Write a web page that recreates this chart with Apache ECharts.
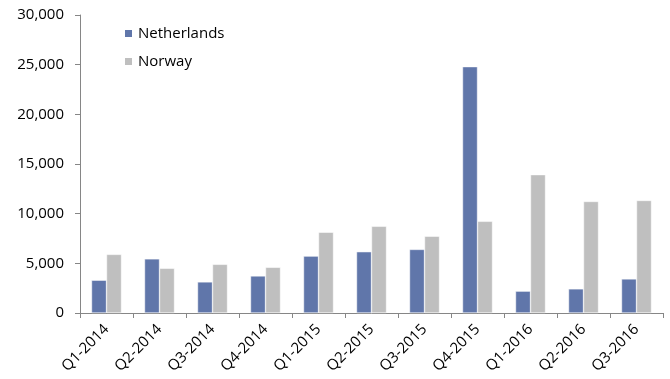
<!DOCTYPE html>
<html>
<head>
<meta charset="utf-8">
<script src="https://cdn.jsdelivr.net/npm/echarts@6/dist/echarts.min.js"></script>
<style>
  html, body { margin: 0; padding: 0; background: #fff; }
  #chart { width: 670px; height: 379px; }
</style>
</head>
<body>
<div id="chart"></div>
<script>
// Quarterly values per country
const quarters = ['Q1-2014', 'Q2-2014', 'Q3-2014', 'Q4-2014', 'Q1-2015', 'Q2-2015',
                  'Q3-2015', 'Q4-2015', 'Q1-2016', 'Q2-2016', 'Q3-2016'];
const netherlands = [3300, 5450, 3130, 3730, 5730, 6170, 6400, 24800, 2200, 2430, 3430];
const norway = [5900, 4500, 4900, 4600, 8130, 8730, 7730, 9230, 13930, 11230, 11330];

const font = 'Open Sans';
const chart = echarts.init(document.getElementById('chart'));
chart.setOption({
  animation: false,
  textStyle: { fontFamily: font },
  legend: {
    orient: 'vertical',
    left: 118,
    top: 21,
    itemWidth: 9,
    itemHeight: 9,
    itemGap: 13,
    icon: 'rect',
    textStyle: { fontFamily: font, fontSize: 15, color: '#000' },
    data: ['Netherlands', 'Norway']
  },
  grid: { left: 80, right: 7, top: 15, bottom: 66, containLabel: false },
  xAxis: {
    type: 'category',
    data: quarters,
    axisLine: { lineStyle: { color: '#868686' } },
    axisTick: { show: true, length: 5, lineStyle: { color: '#868686' } },
    axisLabel: { rotate: 45, color: '#000', fontSize: 15, fontFamily: font, margin: 14, interval: 0 }
  },
  yAxis: {
    type: 'value',
    min: 0,
    max: 30000,
    interval: 5000,
    axisLine: { show: true, lineStyle: { color: '#868686' } },
    axisTick: { show: true, length: 5, lineStyle: { color: '#868686' } },
    splitLine: { show: false },
    axisLabel: {
      color: '#000', fontSize: 15, fontFamily: font, margin: 16,
      formatter: v => v.toLocaleString('en-US')
    }
  },
  series: [
    {
      name: 'Netherlands', type: 'bar', data: netherlands,
      barWidth: 15, barGap: '0%',
      itemStyle: { color: '#6076aa', borderColor: '#ffffff', borderWidth: 0.5 }
    },
    {
      name: 'Norway', type: 'bar', data: norway,
      barWidth: 15,
      itemStyle: { color: '#bfbfbf', borderColor: '#ffffff', borderWidth: 0.5 }
    }
  ]
});
</script>
</body>
</html>
